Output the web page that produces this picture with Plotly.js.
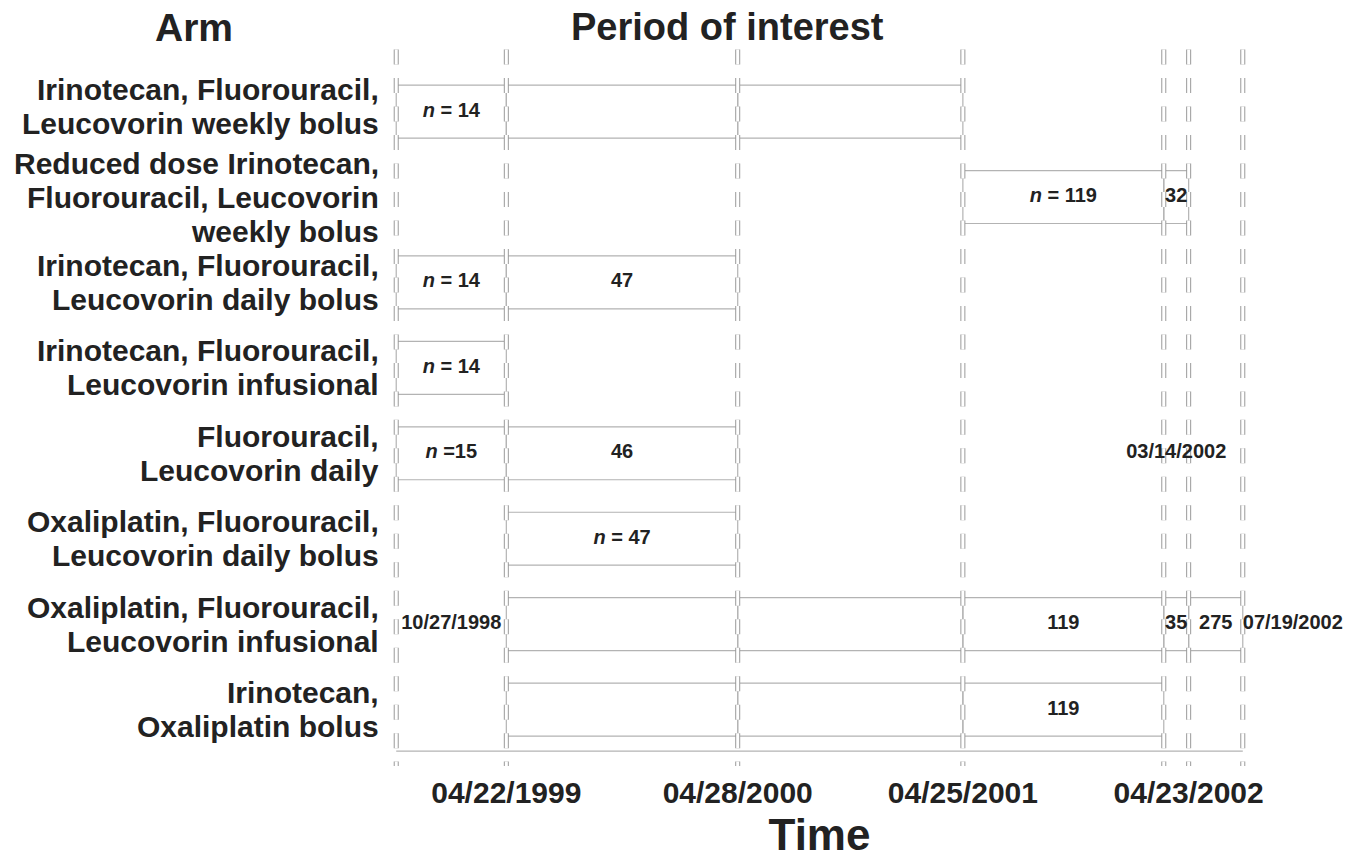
<!DOCTYPE html>
<html><head><meta charset="utf-8">
<script src="https://cdn.plot.ly/plotly-3.0.1.min.js"></script>
<style>html,body{margin:0;padding:0;background:#fff}#chart{width:1368px;height:859px}</style>
</head><body><div id="chart"></div>
<script>
// ---- data ----
const boundaryDates = ['1998-10-27','1999-04-22','2000-04-28','2001-04-25','2002-03-14','2002-04-23','2002-07-19'];
const armLabels = [
  ['Irinotecan, Fluorouracil,','Leucovorin weekly bolus'],
  ['Reduced dose Irinotecan,','Fluorouracil, Leucovorin','weekly bolus'],
  ['Irinotecan, Fluorouracil,','Leucovorin daily bolus'],
  ['Irinotecan, Fluorouracil,','Leucovorin infusional'],
  ['Fluorouracil,','Leucovorin daily'],
  ['Oxaliplatin, Fluorouracil,','Leucovorin daily bolus'],
  ['Oxaliplatin, Fluorouracil,','Leucovorin infusional'],
  ['Irinotecan,','Oxaliplatin bolus']
];
// enrolment segments: arm index, start boundary, end boundary, label
const segArm   = [0,0,0, 1,1, 2,2, 3, 4,4, 5, 6,6,6,6,6, 7,7,7];
const segStart = [0,1,2, 3,4, 0,1, 0, 0,1, 1, 1,2,3,4,5, 1,2,3];
const segEnd   = [1,2,3, 4,5, 1,2, 1, 1,2, 2, 2,3,4,5,6, 2,3,4];
const segLabel = ['<i>n</i> = 14','','', '<i>n</i> = 119','32', '<i>n</i> = 14','47', '<i>n</i> = 14',
                  '<i>n</i> =15','46', '<i>n</i> = 47', '','','119','35','275', '','','119'];
// date labels
const dateLabelArm   = [6, 4, 6];
const dateLabelStart = [0, 4, 6];
const dateLabelEnd   = [1, 5, 6];
const dateLabelText  = ['10/27/1998','03/14/2002','07/19/2002'];
// x ticks
const tickDates = ['1999-04-22','2000-04-28','2001-04-25','2002-04-23'];
const tickText  = ['04/22/1999','04/28/2000','04/25/2001','04/23/2002'];

// ---- helpers ----
const ms = d => Date.parse(d + 'T00:00:00Z');
function fmt(t){ const d=new Date(t); const p=n=>String(n).padStart(2,'0');
  return d.getUTCFullYear()+'-'+p(d.getUTCMonth()+1)+'-'+p(d.getUTCDate())+' '+p(d.getUTCHours())+':'+p(d.getUTCMinutes())+':'+p(d.getUTCSeconds()); }
const mid = (a,b) => fmt((ms(boundaryDates[a])+ms(boundaryDates[b]))/2);

const HALF = 0.31, TXT = '#222', FONT = 'Liberation Sans, Arial, Helvetica, sans-serif';
const traces = [];

// boxes
const bx=[], by=[];
segArm.forEach((a,i)=>{
  const s=boundaryDates[segStart[i]], e=boundaryDates[segEnd[i]];
  bx.push(s,e,e,s,s,null); by.push(a-HALF,a-HALF,a+HALF,a+HALF,a-HALF,null);
});
traces.push({type:'scatter',mode:'lines',x:bx,y:by,line:{color:'#b3b3b3',width:1.2},hoverinfo:'skip',connectgaps:false});

// time axis line
traces.push({type:'scatter',mode:'lines',x:[boundaryDates[0],boundaryDates[6]],y:[7.486,7.486],line:{color:'#b3b3b3',width:1.2},hoverinfo:'skip'});

// dashed period lines (outlined dashes)
boundaryDates.forEach(d=>{
  traces.push({type:'scatter',mode:'lines',x:[d,d],y:[-0.7257,7.66],line:{color:'#9a9a9a',width:5,dash:'15px,13.48px'},hoverinfo:'skip'});
  traces.push({type:'scatter',mode:'lines',x:[d,d],y:[-0.7257,7.66],line:{color:'#ffffff',width:3,dash:'15px,13.48px'},hoverinfo:'skip'});
});

// segment labels
const tx=[],ty=[],tt=[];
segArm.forEach((a,i)=>{ if(segLabel[i]){ tx.push(mid(segStart[i],segEnd[i])); ty.push(a); tt.push(segLabel[i]); }});
traces.push({type:'scatter',mode:'text',x:tx,y:ty,text:tt,textposition:'middle center',
  textfont:{family:FONT,size:20,color:TXT,weight:'bold'},hoverinfo:'skip',cliponaxis:false});

// date labels
traces.push({type:'scatter',mode:'text',
  x:dateLabelArm.map((a,i)=>mid(dateLabelStart[i],dateLabelEnd[i])),
  y:dateLabelArm,text:dateLabelText,
  textposition:dateLabelArm.map((a,i)=>dateLabelStart[i]===dateLabelEnd[i]?'middle right':'middle center'),
  textfont:{family:FONT,size:20,color:TXT,weight:'bold'},hoverinfo:'skip',cliponaxis:false});

// arm label annotations
const LINE = 34;
const annotations=[];
armLabels.forEach((lines,a)=>{
  lines.forEach((ln,j)=>{
    annotations.push({xref:'paper',x:0,xshift:-9,xanchor:'right',yref:'y',y:a,yanchor:'middle',
      yshift:-(j-(lines.length-1)/2)*LINE + (a===0?5:0),text:ln,showarrow:false,align:'right',
      font:{family:FONT,size:30,color:TXT,weight:'bold'}});
  });
});
annotations.push({xref:'paper',yref:'paper',x:(194-390)/859,y:1+(39-27)/733,xanchor:'center',yanchor:'middle',
  text:'Arm',showarrow:false,font:{family:FONT,size:39,color:TXT,weight:'bold'}});
annotations.push({xref:'paper',yref:'paper',x:(727-390)/859,y:1+(39-27)/733,xanchor:'center',yanchor:'middle',
  text:'Period of interest',showarrow:false,font:{family:FONT,size:38,color:TXT,weight:'bold'}});

const layout={
  width:1368,height:859,
  margin:{l:390,r:119,t:39,b:87,pad:0},
  paper_bgcolor:'#fff',plot_bgcolor:'#fff',showlegend:false,
  font:{family:FONT,color:TXT},
  xaxis:{type:'date',range:['1998-10-17','2002-07-29'],showgrid:false,zeroline:false,showline:false,ticks:'',
    tickmode:'array',tickvals:tickDates,ticktext:tickText,tickfont:{family:FONT,size:30,color:TXT,weight:'bold'},
    title:{text:'Time',font:{family:FONT,size:44,color:TXT,weight:'bold'},standoff:12},fixedrange:true},
  yaxis:{range:[7.731,-0.85],showgrid:false,zeroline:false,showline:false,showticklabels:false,ticks:'',fixedrange:true},
  annotations:annotations
};
Plotly.newPlot('chart',traces,layout,{displayModeBar:false,staticPlot:true});
</script></body></html>
